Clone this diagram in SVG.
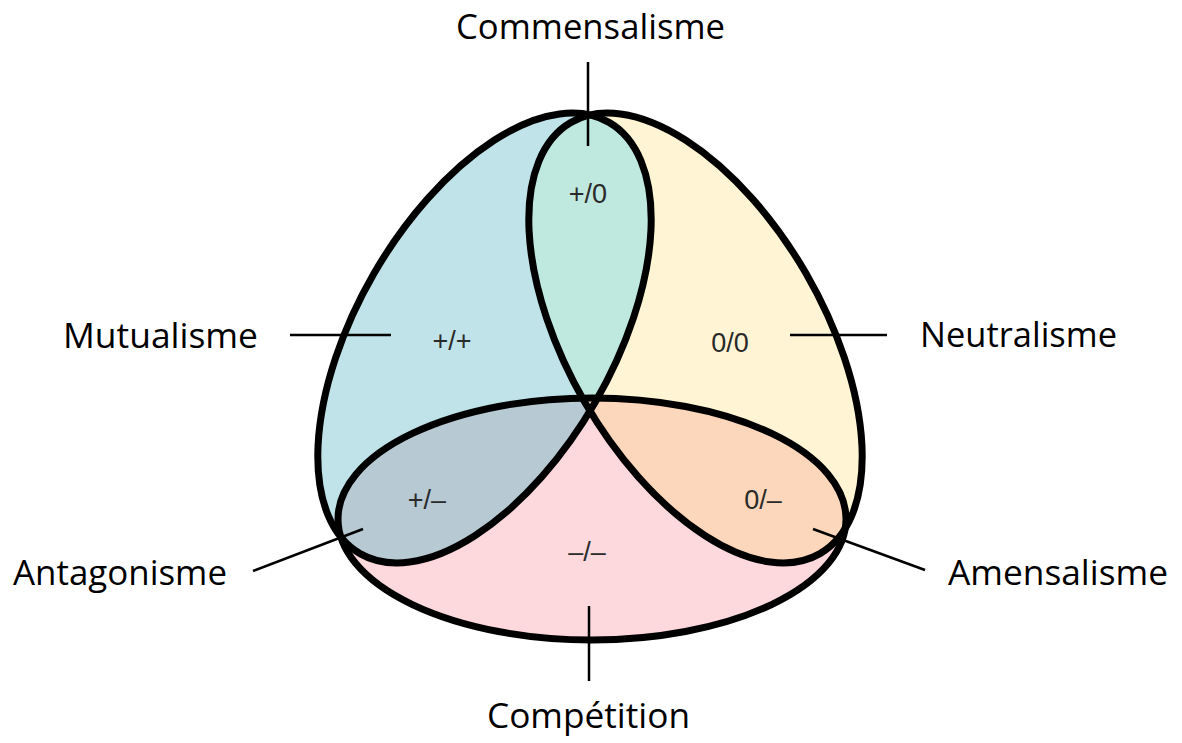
<svg xmlns="http://www.w3.org/2000/svg" width="1182" height="743" viewBox="0 0 1182 743">
  <style>
    .outline { fill: none; stroke: #000; stroke-width: 7; }
    .tick { stroke: #000; stroke-width: 2.5; fill: none; }
    .big { font-family: "Open Sans", "Liberation Sans", sans-serif; font-size: 35px; fill: #000; }
    .small { font-family: "Liberation Sans", Arial, sans-serif; font-size: 27px; fill: #2a2a2a; text-anchor: middle; }
  </style>
  <defs>
    <ellipse id="eL" cx="0" cy="0" rx="249" ry="128" transform="translate(484.5 338) rotate(-60)"/>
    <ellipse id="eR" cx="0" cy="0" rx="249" ry="128" transform="translate(695.5 338) rotate(60)"/>
    <ellipse id="eB" cx="592" cy="519" rx="254" ry="121"/>
    <clipPath id="clipL"><use href="#eL"/></clipPath>
    <clipPath id="clipR"><use href="#eR"/></clipPath>
  </defs>
  <rect width="1182" height="743" fill="#fff"/>

  <g id="regions">
    <use href="#eL" fill="#bfe3e9"/>
    <use href="#eR" fill="#fff5d5"/>
    <use href="#eB" fill="#fdd9de"/>
    <use href="#eR" fill="#bfe8df" clip-path="url(#clipL)"/>
    <use href="#eB" fill="#b7c9d3" clip-path="url(#clipL)"/>
    <use href="#eB" fill="#fcd7bb" clip-path="url(#clipR)"/>
  </g>

  <g id="outlines">
    <use href="#eL" class="outline"/>
    <use href="#eR" class="outline"/>
    <use href="#eB" class="outline"/>
  </g>

  <g id="connectors">
    <line class="tick" x1="588" y1="62" x2="588" y2="146"/>
    <line class="tick" x1="290" y1="335" x2="391" y2="335"/>
    <line class="tick" x1="790" y1="335" x2="887" y2="335"/>
    <line class="tick" x1="253" y1="571" x2="363" y2="529"/>
    <line class="tick" x1="813" y1="529" x2="925" y2="570"/>
    <line class="tick" x1="589" y1="606" x2="589" y2="681"/>
  </g>

  <g id="region-labels">
    <g id="r-commensalisme"><text class="small" x="588" y="203">+/0</text></g>
    <g id="r-mutualisme"><text class="small" x="452" y="350">+/+</text></g>
    <g id="r-neutralisme"><text class="small" x="730" y="352">0/0</text></g>
    <g id="r-antagonisme"><text class="small" x="427" y="509">+/–</text></g>
    <g id="r-amensalisme"><text class="small" x="763" y="509">0/–</text></g>
    <g id="r-competition"><text class="small" x="587" y="561">–/–</text></g>
  </g>

  <g id="names">
    <g id="n-commensalisme"><text class="big" x="456" y="39" textLength="269" lengthAdjust="spacingAndGlyphs">Commensalisme</text></g>
    <g id="n-mutualisme"><text class="big" x="63" y="348" textLength="195" lengthAdjust="spacingAndGlyphs">Mutualisme</text></g>
    <g id="n-neutralisme"><text class="big" x="920" y="347" textLength="197" lengthAdjust="spacingAndGlyphs">Neutralisme</text></g>
    <g id="n-antagonisme"><text class="big" x="13" y="585" textLength="214" lengthAdjust="spacingAndGlyphs">Antagonisme</text></g>
    <g id="n-amensalisme"><text class="big" x="948" y="585" textLength="220" lengthAdjust="spacingAndGlyphs">Amensalisme</text></g>
    <g id="n-competition"><text class="big" x="487" y="728" textLength="203" lengthAdjust="spacingAndGlyphs">Compétition</text></g>
  </g>
</svg>
